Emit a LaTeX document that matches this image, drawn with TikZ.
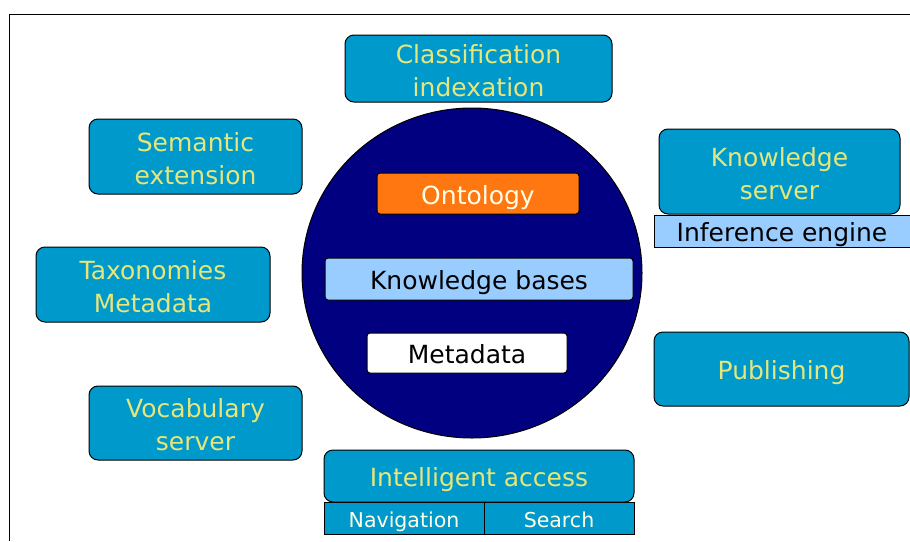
\documentclass[tikz,border=0pt]{standalone}
\usepackage{fontspec}
\setmainfont{DejaVu Sans}
\usepackage{tikz}
\usetikzlibrary{positioning}
\definecolor{boxBlue}{HTML}{0099CC}
\definecolor{textYellow}{HTML}{E6E67A}
\definecolor{coreNavy}{HTML}{000080}
\definecolor{ontoOrange}{HTML}{FF7711}
\definecolor{paleBlue}{HTML}{99CCFF}
\definecolor{paleCream}{HTML}{FFFFE8}

\begin{document}
\begin{tikzpicture}[x=1pt, y=-1pt,
    outer/.style={draw, line width=1pt, fill=boxBlue, rounded corners=9pt, text=textYellow,
        align=center, inner sep=0pt, text height=55pt, text depth=0pt,
        font=\fontsize{25}{33}\selectfont},
    inner/.style={draw, line width=1pt, rounded corners=3pt, inner sep=0pt,
        font=\fontsize{25}{32}\selectfont},
    oneline/.style={text height=22pt, text depth=1pt},
    tab/.style={draw, line width=1pt, fill=boxBlue, inner sep=0pt, text=paleCream,
        text height=18pt, text depth=0pt, font=\fontsize{20.5}{24}\selectfont}]
    \useasboundingbox (0,0) rectangle (910,541);

    % Frame (open to the right and below)
    \draw[line width=1pt] (9,541) -- (9,14) -- (910,14);

    % Core
    \coordinate (C) at (472,273);
    \fill[coreNavy, draw=black, line width=1pt] (C) ellipse [x radius=170, y radius=165];
    \node[inner, oneline, fill=ontoOrange, text=paleCream, minimum width=202pt, minimum height=41pt] (onto) at (478,193.5) {Ontology};
    \node[inner, oneline, fill=paleBlue, minimum width=308pt, minimum height=42pt] (kb) at (479,279) {Knowledge bases};
    \node[inner, oneline, fill=white, minimum width=200pt, minimum height=40pt] (meta) at (467,353) {Metadata};

    % Surrounding services
    \node[outer, minimum width=267pt, minimum height=67pt] (class) at (478.5,68.5) {Classification\\indexation};
    \node[outer, minimum width=213pt, minimum height=75pt] (sem) at (195.5,156.5) {Semantic\\extension};
    \node[outer, minimum width=234pt, minimum height=75pt] (tax) at (153,284.5) {Taxonomies\\Metadata};
    \node[outer, minimum width=213pt, minimum height=74pt] (voc) at (195.5,423) {Vocabulary\\server};
    \node[outer, minimum width=241pt, minimum height=85pt] (ksrv) at (779.5,171.5) {Knowledge\\server};
    \node[draw, oneline, line width=1pt, fill=paleBlue, inner sep=0pt, minimum width=256pt, minimum height=32pt,
        font=\fontsize{25}{32}\selectfont] (infer) at (782,231) {Inference engine};
    \node[outer, oneline, minimum width=255pt, minimum height=74pt] (publ) at (781.5,369) {Publishing};

    % Access with its two tabs
    \node[outer, oneline, minimum width=310pt, minimum height=52pt] (intel) at (479,476) {Intelligent access};
    \node[tab, minimum width=160pt, minimum height=32pt] (nav) at (404,518) {Navigation};
    \node[tab, minimum width=150pt, minimum height=32pt] (search) at (559,518) {Search};
\end{tikzpicture}
\end{document}
